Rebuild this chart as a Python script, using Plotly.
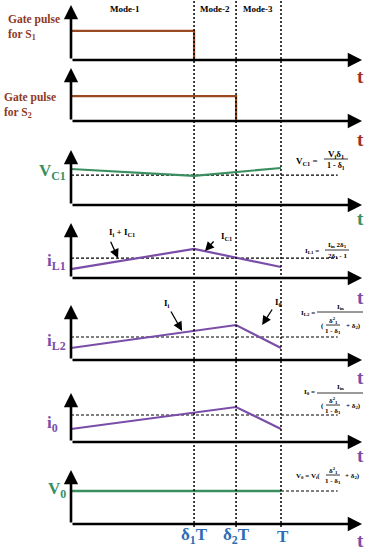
import plotly.graph_objects as go

W, H = 370, 550

# switching instants (T = 1)
d1, d2, T = 0.586, 0.786, 1.0
ref_end = 1.27
t_arrow = 1.386

# waveform data (0 = axis baseline, 1 = tip of the y arrow)
gate_s1_t = [0, d1, d1]
gate_s1 = [0.53, 0.53, 0.0]
gate_s2_t = [0, d2, d2]
gate_s2 = [0.47, 0.47, 0.0]
vc1_t = [0, d1, T]
vc1 = [0.655, 0.53, 0.673]
vc1_ref = 0.545
il1_t = [0, d1, T]
il1 = [0.16, 0.53, 0.2]
il1_ref = 0.36
il2_t = [0, d2, T]
il2 = [0.218, 0.636, 0.218]
il2_ref = 0.418
i0_t = [0, d2, T]
i0 = [0.265, 0.714, 0.265]
i0_ref = 0.551
v0_t = [0, T]
v0 = [0.611, 0.611]

brown = "#9a4a22"
brown_txt = "#8e3a1e"
t_red = "#a3301e"
green = "#3a8f60"
purple = "#7a4ea8"
blue = "#2e6db4"
serif = "Liberation Serif"

# panel placement in pixels: (baseline, arrow tip)
panels = [(60, 5), (121, 68), (205, 150), (278, 223), (360, 305), (442, 393), (524, 470)]


def px(x):
    return x / W


def py(y):
    return 1 - y / H


fig = go.Figure()
layout = dict(
    width=W, height=H,
    margin=dict(l=0, r=0, t=0, b=0),
    paper_bgcolor="white", plot_bgcolor="white",
    showlegend=False,
    xaxis=dict(range=[-71 / 210, 299 / 210], domain=[0, 1], visible=False, fixedrange=True),
)
for i, (base, top) in enumerate(panels):
    name = "yaxis" if i == 0 else f"yaxis{i + 1}"
    layout[name] = dict(range=[0, 1], domain=[py(base), py(top)], visible=False,
                        anchor="x", fixedrange=True)
fig.update_layout(**layout)


def yref(i):
    return "y" if i == 0 else f"y{i + 1}"


def line(i, t, v, color, width=2.2, dash="solid"):
    fig.add_trace(go.Scatter(x=t, y=v, mode="lines", yaxis=yref(i), xaxis="x",
                             line=dict(color=color, width=width, dash=dash),
                             hoverinfo="skip"))


# dotted mode boundaries
for tv in [d1, d2, T]:
    fig.add_shape(type="line", xref="x", yref="paper", x0=tv, x1=tv, y0=py(527), y1=1,
                  line=dict(color="black", width=1.5, dash="2px,2px"))

# reference (average) levels
short_dash = "3px,2px"
line(2, [0, ref_end], [vc1_ref, vc1_ref], "black", 1.2, short_dash)
line(3, [0, ref_end], [il1_ref, il1_ref], "black", 1.2, short_dash)
line(4, [0, ref_end], [il2_ref, il2_ref], "black", 1.2, short_dash)
line(5, [0, ref_end], [i0_ref, i0_ref], "black", 1.2, short_dash)
line(6, [T, ref_end], [v0[-1], v0[-1]], "black", 1.2, short_dash)

# waveforms
line(0, gate_s1_t, gate_s1, brown)
line(1, gate_s2_t, gate_s2, brown)
line(2, vc1_t, vc1, green)
line(3, il1_t, il1, purple)
line(4, il2_t, il2, purple)
line(5, i0_t, i0, purple)
line(6, v0_t, v0, green, 2.5)

# axes arrows
for i in range(len(panels)):
    yr = yref(i)
    for (x, y) in [(0, 1), (t_arrow, 0)]:
        fig.add_annotation(x=x, y=y, xref="x", yref=yr, ax=0, ay=0, axref="x", ayref=yr,
                           text="", showarrow=True, arrowhead=2, arrowsize=1.1,
                           arrowwidth=2.6, arrowcolor="black", standoff=0)


def text(x, y, s, size=10, color="black", anchor="center", bold=True):
    fig.add_annotation(x=px(x), y=py(y), xref="paper", yref="paper", text=s,
                       showarrow=False, xanchor=anchor, yanchor="middle", align=anchor if anchor != "center" else "center",
                       font=dict(family=serif, size=size, color=color,
                                 weight="bold" if bold else "normal"))


def bar(xc, y, w):
    fig.add_shape(type="line", xref="paper", yref="paper", x0=px(xc - w / 2), x1=px(xc + w / 2),
                  y0=py(y), y1=py(y), line=dict(color="black", width=0.8))


# mode labels
text(125, 9, "Mode-1", 9)
text(215, 9, "Mode-2", 9)
text(258, 9, "Mode-3", 9)

# left labels
text(6, 28, "Gate pulse<br>for S<sub>1</sub>", 11.5, brown_txt, "left")
text(2, 105, "Gate pulse<br>for S<sub>2</sub>", 11.5, brown_txt, "left")
text(68, 172, "V<sub>C1</sub>", 17, green, "right")
text(68, 262, "i<sub>L1</sub>", 17, purple, "right")
text(68, 342, "i<sub>L2</sub>", 17, purple, "right")
text(60, 424, "i<sub>0</sub>", 17, purple, "right")
text(68, 490, "V<sub>0</sub>", 17, green, "right")

# t labels
for y, c in [(76, t_red), (140, t_red), (218, green), (297, purple), (377, purple), (455, purple), (540, purple)]:
    text(360, y, "t", 19, c)

# time instants
text(194, 536, "δ<sub>1</sub>T", 17, blue)
text(236, 536, "δ<sub>2</sub>T", 17, blue)
text(283, 536, "T", 17, blue)


# pointer labels
def pointer(i, x, y, ax, ay, label, lx, ly):
    fig.add_annotation(x=x, y=y, xref="x", yref=yref(i), ax=ax, ay=ay, text="",
                       showarrow=True, arrowhead=2, arrowsize=1.4, arrowwidth=1.3,
                       arrowcolor="black", standoff=0)
    text(lx, ly, label, 9)


pointer(3, 0.224, il1_ref, -8, -18, "I<sub>i</sub> + I<sub>C1</sub>", 122, 232)
pointer(3, 0.638, 0.49, 10, -11, "I<sub>C1</sub>", 226, 236)
pointer(4, 0.529, 0.527, -12, -21, "I<sub>i</sub>", 167, 303)
pointer(4, 0.91, 0.636, 11, -17, "I<sub>0</sub>", 278, 302)

# formulas
fs = 7
text(320, 161, "V<sub>C1</sub> =", 9, anchor="right")
text(336, 154, "V<sub>i</sub>δ<sub>1</sub>", 9)
bar(336, 159, 24)
text(336, 166, "1 - δ<sub>1</sub>", 8)

text(321, 251, "I<sub>L1</sub> =", fs, anchor="right")
text(337, 245, "I<sub>in</sub> 2δ<sub>1</sub>", fs)
bar(337, 250, 24)
text(337, 256, "2δ<sub>1</sub> - 1", fs)

text(317, 313, "I<sub>L2</sub> =", fs, anchor="right")
text(340, 307, "I<sub>in</sub>", fs)
bar(340, 312, 46)
text(333, 320, "δ<sup>2</sup><sub>1</sub>", fs)
bar(333, 325, 14)
text(333, 331, "1 - δ<sub>1</sub>", fs)
text(322, 326, "(", fs)
text(353, 326, "+ δ<sub>2</sub>)", fs)

text(317, 392, "I<sub>0</sub> =", fs, anchor="right")
text(340, 387, "I<sub>in</sub>", fs)
bar(340, 393, 46)
text(333, 400, "δ<sup>2</sup><sub>1</sub>", fs)
bar(333, 405, 14)
text(333, 411, "1 - δ<sub>1</sub>", fs)
text(322, 406, "(", fs)
text(353, 406, "+ δ<sub>2</sub>)", fs)

text(322, 476, "V<sub>0</sub> = V<sub>i</sub>(", fs, anchor="right")
text(333, 470, "δ<sup>2</sup><sub>1</sub>", fs)
bar(333, 475, 14)
text(333, 481, "1 - δ<sub>1</sub>", fs)
text(352, 476, "+ δ<sub>2</sub>)", fs)

fig.write_html("out.html", config={"displayModeBar": False},
               post_script="document.body.style.margin='0';document.body.style.overflow='hidden';")
